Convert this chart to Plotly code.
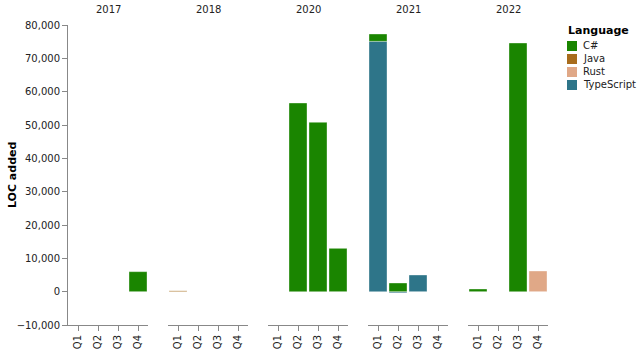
import plotly.graph_objects as go
from plotly.subplots import make_subplots

years = ["2017", "2018", "2020", "2021", "2022"]
quarters = ["Q1", "Q2", "Q3", "Q4"]
languages = ["C#", "Java", "Rust", "TypeScript"]
colors = {"C#": "#1a8500", "Java": "#a86c1c", "Rust": "#e0a887", "TypeScript": "#2e7589"}

# values per year (rows) and quarter (columns)
csharp = [[None, None, None, 6000],
          [None, None, None, None],
          [None, 56600, 50800, 13000],
          [2200, 2600, None, None],
          [800, None, 74600, None]]
java = [[None, None, None, None],
        [250, None, None, None],
        [None, None, None, None],
        [None, None, None, None],
        [None, None, None, None]]
rust = [[None, None, None, None],
        [None, None, None, None],
        [None, None, None, None],
        [None, None, None, None],
        [None, None, None, 6200]]
typescript = [[None, None, None, None],
              [None, None, None, None],
              [None, None, None, None],
              [75100, -350, 5000, None],
              [None, None, None, None]]

series = {"C#": csharp, "Java": java, "Rust": rust, "TypeScript": typescript}
stack_order = ["TypeScript", "C#", "Java", "Rust"]

W, H = 638, 351
L, R, T, B = 68, 90, 25, 26
PW, PH = W - L - R, H - T - B

fig = make_subplots(rows=1, cols=len(years), shared_yaxes=True,
                    horizontal_spacing=20 / PW)

for lang in stack_order:
    for i, yr in enumerate(years):
        fig.add_trace(go.Bar(
            x=quarters, y=series[lang][i], name=lang,
            marker=dict(color=colors[lang], line=dict(color="rgba(255,255,255,0.6)", width=0.6)),
            legendgroup=lang, showlegend=False,
            hovertemplate=lang + " %{x}: %{y:,}<extra>" + yr + "</extra>",
        ), row=1, col=i + 1)

font_family = "DejaVu Sans, sans-serif"
for i, yr in enumerate(years):
    fig.update_xaxes(type="category", categoryorder="array", categoryarray=quarters,
                     range=[-0.5, 3.5], showline=True, linecolor="#888", linewidth=1,
                     ticks="outside", tickcolor="#888", ticklen=5, tickangle=-90,
                     tickfont=dict(size=10, color="#222", family=font_family),
                     showgrid=False, zeroline=False, fixedrange=True, automargin=False,
                     row=1, col=i + 1)
    fig.add_annotation(text=yr, xref=f"x{'' if i == 0 else i + 1} domain", yref="paper",
                       x=0.5, y=1, yshift=8, yanchor="bottom", showarrow=False,
                       font=dict(size=10, color="#222", family=font_family))

fig.update_yaxes(range=[-10000, 80000], dtick=10000, tickformat=",",
                 showgrid=False, zeroline=False, fixedrange=True, automargin=False)
fig.update_yaxes(showline=True, linecolor="#888", linewidth=1, ticks="outside",
                 tickcolor="#888", ticklen=5,
                 tickfont=dict(size=10, color="#222", family=font_family),
                 row=1, col=1)
for c in range(2, len(years) + 1):
    fig.update_yaxes(showline=False, ticks="", showticklabels=False, row=1, col=c)


# pixel -> paper coordinate helpers for titles and legend
def px_x(px):
    return (px - L) / PW


def px_y(py):
    return (H - B - py) / PH


fig.add_annotation(text="<b>LOC added</b>", xref="paper", yref="paper",
                   x=px_x(12), y=0.5, textangle=-90, xanchor="center", yanchor="middle",
                   showarrow=False, font=dict(size=11, color="#000", family=font_family))

fig.add_annotation(text="<b>Language</b>", xref="paper", yref="paper",
                   x=px_x(566), y=px_y(30), xanchor="left", yanchor="middle",
                   showarrow=False, font=dict(size=11, color="#000", family=font_family))
for k, lang in enumerate(languages):
    cy = 46 + 13 * k
    fig.add_shape(type="rect", xref="paper", yref="paper",
                  x0=px_x(567), x1=px_x(577), y0=px_y(cy + 5), y1=px_y(cy - 5),
                  fillcolor=colors[lang], line=dict(width=0))
    fig.add_annotation(text=lang, xref="paper", yref="paper",
                       x=px_x(581), y=px_y(cy), xanchor="left", yanchor="middle",
                       showarrow=False, font=dict(size=10, color="#222", family=font_family))

fig.update_layout(
    width=W, height=H,
    margin=dict(l=L, r=R, t=T, b=B, autoexpand=False),
    barmode="relative", bargap=0.1,
    plot_bgcolor="white", paper_bgcolor="white",
    font=dict(family=font_family, color="#000"),
    showlegend=False,
)

fig.write_html("out.html")
